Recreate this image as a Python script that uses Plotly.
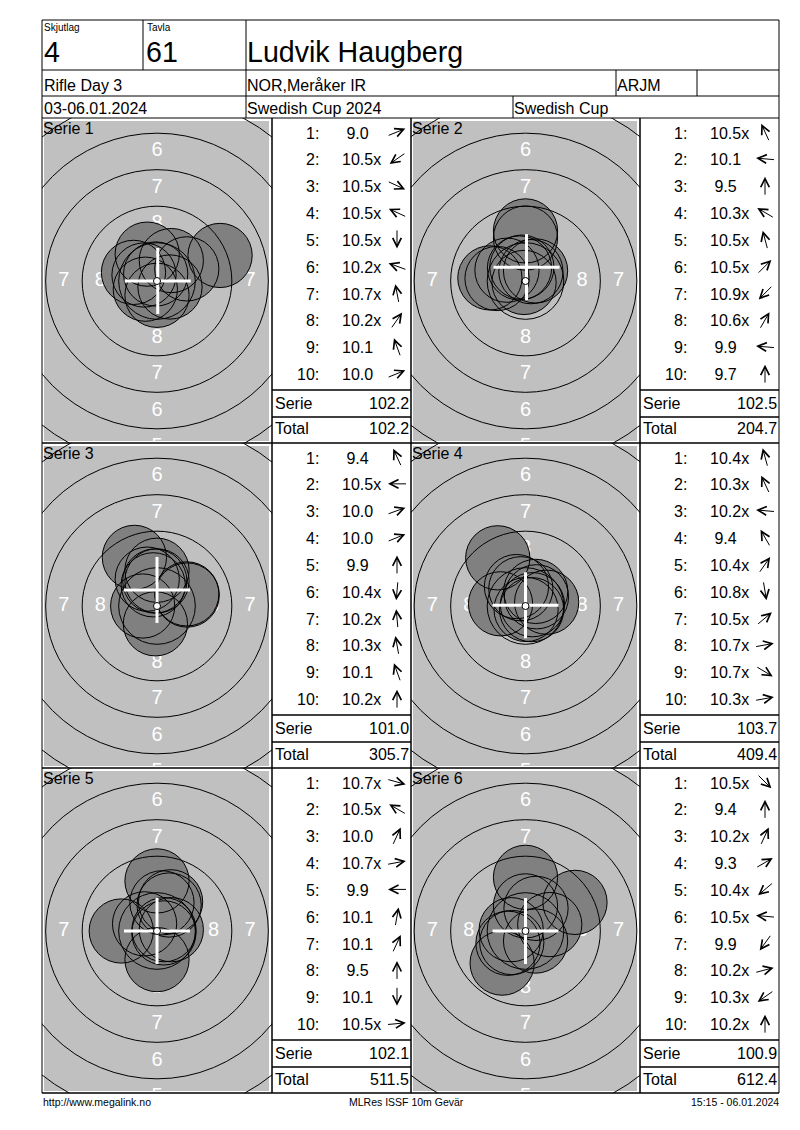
import math
import plotly.graph_objects as go

# -----------------------------
# 1) Values read from the result card
# -----------------------------
squad = "4"
lane = "61"
shooter = "Ludvik Haugberg"
event_day = "Rifle Day 3"
club = "NOR,Meråker IR"
shooter_class = "ARJM"
dates = "03-06.01.2024"
competition = "Swedish Cup 2024"
cup = "Swedish Cup"
footer_left = "http://www.megalink.no"
footer_mid = "MLRes ISSF 10m Gevär"
footer_right = "15:15 - 06.01.2024"

serie_names = ["Serie 1", "Serie 2", "Serie 3", "Serie 4", "Serie 5", "Serie 6"]

# shot scores and impact points (mm from centre, y up)
s1_scores = ["9.0", "10.5x", "10.5x", "10.5x", "10.5x", "10.2x", "10.7x", "10.2x", "10.1", "10.0"]
s1_x = [4.32, -0.80, 0.89, -0.89, 0.00, -1.61, -0.09, 0.98, -0.67, 2.04]
s1_y = [1.75, -0.56, -0.41, 0.41, -0.98, 0.59, 0.48, 1.40, 1.84, 0.83]

s2_scores = ["10.5x", "10.1", "9.5", "10.3x", "10.5x", "10.5x", "10.9x", "10.6x", "9.9", "9.7"]
s2_x = [-0.41, -1.95, 0.00, -1.27, -0.25, 0.69, -0.10, 0.37, -2.44, 0.00]
s2_y = [0.89, 0.17, 3.43, 0.74, 0.95, 0.69, -0.10, 0.64, 0.21, 2.94]

s3_scores = ["9.4", "10.5x", "10.0", "10.0", "9.9", "10.4x", "10.2x", "10.3x", "10.1", "10.2x"]
s3_x = [-1.55, -0.98, 2.07, 2.04, 0.00, -0.11, -0.15, -0.26, -0.67, 0.00]
s3_y = [3.33, 0.00, 0.75, 0.83, 2.45, -1.22, 1.71, 1.45, 1.84, 1.72]

s4_scores = ["10.4x", "10.3x", "10.2x", "9.4", "10.4x", "10.8x", "10.5x", "10.7x", "10.7x", "10.3x"]
s4_x = [-0.32, -0.62, -1.71, -1.90, 0.70, 0.04, 0.75, 0.48, 0.42, 1.45]
s4_y = [1.18, 1.33, 0.15, 3.30, 1.00, -0.24, 0.63, 0.09, -0.25, 0.26]

s5_scores = ["10.7x", "10.5x", "10.0", "10.7x", "9.9", "10.1", "10.1", "9.5", "10.1", "10.5x"]
s5_x = [0.47, -0.85, 0.93, 0.48, -2.45, 0.34, 0.83, 0.00, 0.00, 0.98]
s5_y = [-0.13, 0.49, 2.00, 0.09, 0.00, 1.93, 1.78, 3.43, -1.96, 0.09]

s6_scores = ["10.5x", "9.4", "10.2x", "9.3", "10.4x", "10.5x", "9.9", "10.2x", "10.3x", "10.2x"]
s6_x = [0.69, 0.00, 0.72, 3.39, -0.94, -0.98, -1.60, 1.66, -1.20, 0.00]
s6_y = [-0.69, 3.675, 1.55, 1.96, -0.79, 0.09, -2.20, 0.44, -0.84, 1.72]

serie_sums = ["102.2", "102.5", "101.0", "103.7", "102.1", "100.9"]
running_totals = ["102.2", "204.7", "305.7", "409.4", "511.5", "612.4"]

# white cross (group centre) per serie, mm
cross_x = [0.05, 0.07, 0.00, 0.00, 0.00, 0.00]
cross_y = [0.00, 0.95, 1.10, 0.05, 0.00, 0.00]

# target rings 10..5 (radius mm) and the ring numbers printed between them
ring_radius_mm = [0.24, 2.625, 5.125, 7.625, 10.125, 12.625]
ring_labels = ["8", "7", "6", "5"]

# -----------------------------
# 2) Page geometry helpers
# -----------------------------
S = 14.6          # px per mm
PELLET_MM = 4.4
FW, FH = 784, 1114
OX, OY = 8, 8     # body margin of the html page
FONT = "Liberation Sans, Arial, sans-serif"


def fx(px):
    return (px - OX) / FW


def fy(py):
    return 1 - (py - OY) / FH


shapes = []
annotations = []
axes = {}


def line(x0, y0, x1, y1):
    shapes.append(dict(type="line", xref="paper", yref="paper",
                       x0=fx(x0), y0=fy(y0), x1=fx(x1), y1=fy(y1),
                       line=dict(color="black", width=1), layer="above"))


def label(text, x, y, size, anchor="left", color="black"):
    annotations.append(dict(text=text, x=fx(x), y=fy(y), xref="paper", yref="paper",
                            xanchor=anchor, yanchor="middle", showarrow=False,
                            font=dict(family=FONT, size=size, color=color)))


def direction_arrow(xc, yc, ang, length=18):
    # small open-headed arrow centred on (xc, yc), pointing at angle ang (deg, ccw)
    c, s = math.cos(math.radians(ang)), math.sin(math.radians(ang))
    hx, hy = xc + c * length / 2, yc - s * length / 2
    annotations.append(dict(text="", x=fx(hx), y=fy(hy), xref="paper", yref="paper",
                            showarrow=True, ax=-c * length, ay=s * length,
                            arrowhead=5, arrowsize=1.7, arrowwidth=1,
                            arrowcolor="black", standoff=0, startstandoff=0,
                            borderpad=0, borderwidth=0, font=dict(size=1)))


# -----------------------------
# 3) Header
# -----------------------------
for seg in [(42, 20, 779, 20), (42, 70, 779, 70), (42, 96, 779, 96), (42, 118, 779, 118),
            (143, 20, 143, 70), (246, 20, 246, 118), (616, 70, 616, 96),
            (697, 70, 697, 96), (513, 96, 513, 118),
            (42, 20, 42, 1093), (779, 20, 779, 1093)]:
    line(*seg)

label("Skjutlag", 42, 27.5, 10)
label("Tavla", 144.5, 27.5, 10)
label(squad, 41.5, 51.5, 28.6)
label(lane, 143.5, 51.5, 28.6)
label(shooter, 245, 51.5, 28.6)
label(event_day, 41.5, 85.5, 16)
label(club, 245, 85.5, 16)
label(shooter_class, 614.5, 85.5, 16)
label(dates, 41.5, 108.5, 16)
label(competition, 245, 108.5, 16)
label(cup, 512, 108.5, 16)

label(footer_left, 40.5, 1102, 10.5)
label(footer_mid, 406, 1102, 10.5, anchor="center")
label(footer_right, 780.5, 1102, 10.5, anchor="right")

# -----------------------------
# 4) Six series panels
# -----------------------------
fig = go.Figure()
series = [(s1_scores, s1_x, s1_y), (s2_scores, s2_x, s2_y), (s3_scores, s3_x, s3_y),
          (s4_scores, s4_x, s4_y), (s5_scores, s5_x, s5_y), (s6_scores, s6_x, s6_y)]
col_left = [42, 411]
col_split = [272, 640]
col_right = [411, 779]

for k, (scores, xs, ys) in enumerate(series):
    row, col = divmod(k, 2)
    T = 118 + 325 * row
    L, M, R = col_left[col], col_split[col], col_right[col]
    cx, cy = (L + M) / 2, T + 163
    aid = "" if k == 0 else str(k + 1)
    xr, yr = "x" + aid, "y" + aid
    axes["xaxis" + aid] = dict(domain=[fx(L), fx(M)], range=[(L - cx) / S, (M - cx) / S],
                               visible=False, fixedrange=True, anchor=yr)
    axes["yaxis" + aid] = dict(domain=[fy(T + 325), fy(T)],
                               range=[-(T + 325 - cy) / S, (cy - T) / S],
                               visible=False, fixedrange=True, anchor=xr)

    # grey target card
    shapes.append(dict(type="rect", xref=xr, yref=yr,
                       x0=(L + 2 - cx) / S, x1=(M - 3 - cx) / S,
                       y0=-(T + 323 - cy) / S, y1=(cy - T - 3) / S,
                       fillcolor="#c0c0c0", line=dict(width=0), layer="below"))

    # ring numbers (only those whose centre falls on the card)
    lx, ly, lt = [], [], []
    for i, v in enumerate(ring_labels):
        r = (ring_radius_mm[i + 1] + ring_radius_mm[i + 2]) / 2
        for dx, dy in [(0, 1), (0, -1), (-1, 0), (1, 0)]:
            px_, py_ = cx + dx * r * S, cy - dy * r * S
            if L <= px_ <= M and T <= py_ <= T + 330:
                lx.append(dx * r)
                ly.append(dy * r)
                lt.append(v)
    fig.add_trace(go.Scatter(x=lx, y=ly, text=lt, mode="text", cliponaxis=True,
                             textfont=dict(family=FONT, size=20, color="white"),
                             xaxis=xr, yaxis=yr, hoverinfo="skip", showlegend=False))

    # shots: fills first, then every outline on top
    fig.add_trace(go.Scatter(x=xs, y=ys, mode="markers", cliponaxis=True,
                             marker=dict(size=PELLET_MM * S, color="#808080", line=dict(width=0)),
                             xaxis=xr, yaxis=yr, hoverinfo="skip", showlegend=False))
    fig.add_trace(go.Scatter(x=xs, y=ys, mode="markers", cliponaxis=True,
                             marker=dict(size=PELLET_MM * S, color="rgba(0,0,0,0)",
                                         line=dict(width=1, color="black")),
                             xaxis=xr, yaxis=yr, hoverinfo="skip", showlegend=False))

    # rings over the shots
    for r in ring_radius_mm[1:]:
        shapes.append(dict(type="circle", xref=xr, yref=yr, x0=-r, x1=r, y0=-r, y1=r,
                           line=dict(color="black", width=1), layer="above"))

    # white cross + ten ring
    arm = 2.26
    mx, my = cross_x[k], cross_y[k]
    shapes.append(dict(type="line", xref=xr, yref=yr, x0=mx - arm, x1=mx + arm, y0=my, y1=my,
                       line=dict(color="white", width=3), layer="above"))
    shapes.append(dict(type="line", xref=xr, yref=yr, x0=mx, x1=mx, y0=my - arm, y1=my + arm,
                       line=dict(color="white", width=3), layer="above"))
    r10 = ring_radius_mm[0]
    shapes.append(dict(type="circle", xref=xr, yref=yr, x0=-r10, x1=r10, y0=-r10, y1=r10,
                       fillcolor="white", line=dict(color="black", width=1), layer="above"))

    label(serie_names[k], L - 1, T + 10.5, 16)

    # shot list
    for i, sc in enumerate(scores):
        yc = T + 15 + 26.85 * i
        label(f"{i + 1}:", M + 49, yc, 16, anchor="right")
        label(sc if sc.startswith("10") else "\u00a0" + sc, M + 68, yc, 16)
        ang = math.degrees(math.atan2(ys[i], xs[i]))
        direction_arrow(M + 125, yc - 1, ang)

    label("Serie", M + 0.5, T + 285.5, 16)
    label(serie_sums[k], M + 139, T + 285.5, 16, anchor="right")
    label("Total", M + 0.5, T + 311, 16)
    label(running_totals[k], M + 139, T + 311, 16, anchor="right")

    # panel grid lines
    line(42, T + 325, 779, T + 325)
    for vx in (272, 411, 640):
        line(vx, T, vx, T + 325)
    for lx0, lx1 in ((272, 411), (640, 779)):
        line(lx0, T + 272, lx1, T + 272)
        line(lx0, T + 299, lx1, T + 299)

fig.update_layout(width=FW, height=FH, margin=dict(l=0, r=0, t=0, b=0),
                  paper_bgcolor="white", plot_bgcolor="rgba(0,0,0,0)",
                  showlegend=False, shapes=shapes, annotations=annotations, **axes)

fig.write_html("out.html", config={"displayModeBar": False})
